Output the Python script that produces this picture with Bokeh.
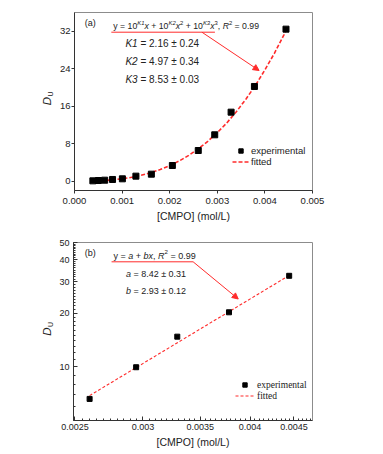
import math
from bokeh.plotting import figure
from bokeh.layouts import column, row
from bokeh.models import (FixedTicker, Label, Arrow, NormalHead, Legend, LegendItem,
                          PrintfTickFormatter, Range1d)
from bokeh.embed import file_html
from bokeh.resources import INLINE

# ---------------- data ----------------
cmpo = [0.000386, 0.000503, 0.000634, 0.000799, 0.001006, 0.00129, 0.001615,
        0.002056, 0.0026, 0.002946, 0.00329, 0.00378, 0.004443]
du = [0.14, 0.21, 0.28, 0.43, 0.57, 1.14, 1.56, 3.41, 6.61, 9.96, 14.79, 20.27, 32.5]

fit_x_a = [0.0004, 0.0006, 0.0008, 0.001, 0.0012, 0.0014, 0.0016, 0.0018, 0.002, 0.0022,
           0.0024, 0.0026, 0.0028, 0.003, 0.0032, 0.0034, 0.0036, 0.0038, 0.004, 0.0042,
           0.0044, 0.00445]
fit_y_a = [0.1, 0.19, 0.35, 0.58, 0.89, 1.32, 1.86, 2.54, 3.37, 4.38,
           5.57, 6.96, 8.58, 10.42, 12.5, 14.89, 17.55, 20.49, 23.8, 27.35,
           31.3, 32.4]

cmpo_b = cmpo[8:]
du_b = du[8:]
fit_x_b = [0.0026, 0.00445]
fit_y_b = [6.9, 32.8]

xticks_a = [0.0, 0.001, 0.002, 0.003, 0.004, 0.005]
yticks_a = [0, 8, 16, 24, 32]
xticks_b = [0.0025, 0.003, 0.0035, 0.004, 0.0045]
yticks_b = [10, 20, 30, 40, 50]

# ---------------- styling helpers ----------------
FONT = "Liberation Sans"
SERIF = "Liberation Serif"
TXT = "#222222"
RED = "#ff2b2b"
NB = "\u00a0"
EM = {' ': 0.278, NB: 0.278, '=': 0.584, '+': 0.584, '\u00b1': 0.549, '.': 0.278, ',': 0.278,
      'y': 0.5, 'x': 0.5, 'K': 0.667, 'R': 0.722, 'a': 0.556, 'b': 0.556,
      '(': 0.333, ')': 0.333}
LAB_W = 56


def tw(s, size):
    return sum(EM.get(c, 0.556) for c in s) * size


def rich(p, x, y, pieces, size):
    off = 0.0
    for txt, style, kind in pieces:
        txt = txt.replace(" ", NB)
        s = size * 0.68 if kind == 'sup' else size
        yo = size * 0.42 if kind == 'sup' else 0
        p.add_layout(Label(x=x, y=y, x_offset=off, y_offset=yo, text=txt,
                           text_font=FONT, text_font_size=f"{s:.1f}px",
                           text_font_style=style, text_color=TXT,
                           text_baseline="middle", text_align="left"))
        off += tw(txt, s)


def style_axes(p, inside):
    for ax in (p.xaxis[0], p.yaxis[0]):
        ax.axis_line_color = "#333333"
        ax.major_tick_line_color = "#333333"
        ax.minor_tick_line_color = "#333333"
        ax.major_label_text_font = FONT
        ax.major_label_text_color = TXT
        ax.axis_label_text_font = FONT
        ax.axis_label_text_color = TXT
        ax.axis_label_text_font_style = "normal"
        ax.axis_label_text_font_size = "10.5px"
        if inside:
            ax.major_tick_in = 4
            ax.major_tick_out = 0
            ax.minor_tick_in = 2
            ax.minor_tick_out = 0
        else:
            ax.major_tick_in = 0
            ax.major_tick_out = 3
            ax.minor_tick_line_color = None
    p.xgrid.visible = False
    p.ygrid.visible = False
    p.outline_line_color = "#8c8c8c"
    p.outline_line_width = 1


def label_panel(h, d_xy, u_xy):
    """narrow blank figure that carries the rotated y-axis title D_U"""
    f = figure(width=LAB_W, height=h, output_backend="svg", toolbar_location=None,
               x_range=Range1d(0, LAB_W), y_range=Range1d(0, h), min_border=0)
    f.axis.visible = False
    f.xgrid.visible = False
    f.ygrid.visible = False
    f.outline_line_color = None
    f.add_layout(Label(x=d_xy[0], y=d_xy[1], text="D", angle=math.pi / 2, text_font=FONT,
                       text_font_size="11.5px", text_font_style="italic", text_color=TXT,
                       text_align="center", text_baseline="middle"))
    f.add_layout(Label(x=u_xy[0], y=u_xy[1], text="U", angle=math.pi / 2, text_font=FONT,
                       text_font_size="7px", text_color=TXT,
                       text_align="center", text_baseline="middle"))
    return f


# ---------------- panel (a) ----------------
p1 = figure(width=277, height=227, output_backend="svg", toolbar_location=None,
            x_range=Range1d(0.0, 0.005), y_range=Range1d(-1.92, 36.05),
            min_border_left=71 - LAB_W, min_border_right=21, min_border_top=12, min_border_bottom=37)
style_axes(p1, inside=False)
p1.xaxis.ticker = FixedTicker(ticks=xticks_a)
p1.yaxis.ticker = FixedTicker(ticks=yticks_a)
p1.xaxis.formatter = PrintfTickFormatter(format="%.3f")
p1.xaxis.major_label_text_font_size = "9.5px"
p1.yaxis.major_label_text_font_size = "9.5px"
p1.xaxis.axis_label = "[CMPO] (mol/L)"
p1.xaxis.major_label_standoff = 4
p1.xaxis.axis_label_standoff = 3
p1.yaxis.major_label_standoff = 1

fit_a = p1.line(fit_x_a, fit_y_a, line_color=RED, line_width=1.6, line_dash="4 2")
exp_a = p1.scatter(cmpo, du, marker="square", size=6, fill_color="black", line_color="black")

leg_a = Legend(items=[LegendItem(label="experimental", renderers=[exp_a]),
                      LegendItem(label="fitted", renderers=[fit_a])],
               location=(158, 23), padding=0, margin=0, spacing=0,
               glyph_width=17, glyph_height=11, label_height=11, label_standoff=2,
               label_text_font=FONT, label_text_font_size="9.5px", label_text_color=TXT,
               border_line_color=None, background_fill_alpha=0)
p1.add_layout(leg_a)

p1.add_layout(Label(x=0.000213, y=33.77, text="(a)", text_font=FONT, text_font_size="9px",
                    text_color=TXT, text_baseline="middle"))
rich(p1, 0.000816, 33.13, [
    ("y = 10", "normal", "n"), ("K1", "italic", "sup"), ("x", "italic", "n"),
    (" + 10", "normal", "n"), ("K2", "italic", "sup"), ("x", "italic", "n"), ("2", "normal", "sup"),
    (" + 10", "normal", "n"), ("K3", "italic", "sup"), ("x", "italic", "n"), ("3", "normal", "sup"),
    (", ", "normal", "n"), ("R", "italic", "n"), ("2", "normal", "sup"), (" = 0.99", "normal", "n")], 8.7)
p1.add_layout(Arrow(x_start=0.000774, y_start=31.85, x_end=0.00295, y_end=31.85, end=None,
                    line_color=RED, line_width=1))
p1.add_layout(Arrow(x_start=0.002677, y_start=31.85, x_end=0.003878, y_end=23.68,
                    end=NormalHead(size=6, fill_color=RED, line_color=RED),
                    line_color=RED, line_width=1))
for yy, k, v in [(29.38, "K1", " = 2.16 \u00b1 0.24"), (25.6, "K2", " = 4.97 \u00b1 0.34"),
                 (21.76, "K3", " = 8.53 \u00b1 0.03")]:
    rich(p1, 0.00107, yy, [(k, "italic", "n"), (v, "normal", "n")], 10.0)

# ---------------- panel (b) ----------------
p2 = figure(width=277, height=226, output_backend="svg", toolbar_location=None,
            x_axis_type="log", y_axis_type="log",
            x_range=Range1d(0.00249, 0.00473), y_range=Range1d(5.0, 50.0),
            min_border_left=71 - LAB_W, min_border_right=21, min_border_top=15, min_border_bottom=33)
style_axes(p2, inside=True)
p2.xaxis.ticker = FixedTicker(ticks=xticks_b,
                              minor_ticks=[round(0.0025 + 0.00005 * i, 6) for i in range(45)])
p2.yaxis.ticker = FixedTicker(ticks=yticks_b, minor_ticks=list(range(5, 51)))
p2.xaxis.formatter = PrintfTickFormatter(format="%g")
p2.yaxis.formatter = PrintfTickFormatter(format="%d")
p2.xaxis.major_label_text_font_size = "9px"
p2.yaxis.major_label_text_font_size = "9px"
p2.xaxis.axis_label = "[CMPO] (mol/L)"
p2.xaxis.major_label_standoff = 3
p2.xaxis.axis_label_standoff = 3
p2.yaxis.major_label_standoff = 4

fit_b = p2.line(fit_x_b, fit_y_b, line_color=RED, line_width=1.1, line_dash="3 2")
exp_b = p2.scatter(cmpo_b, du_b, marker="square", size=5, fill_color="black", line_color="black")

leg_b = Legend(items=[LegendItem(label="experimental", renderers=[exp_b]),
                      LegendItem(label="fitted", renderers=[fit_b])],
               location=(162, 19), padding=0, margin=0, spacing=0,
               glyph_width=19, glyph_height=11, label_height=11, label_standoff=3,
               label_text_font=SERIF, label_text_font_size="9.5px", label_text_color=TXT,
               border_line_color=None, background_fill_alpha=0)
p2.add_layout(leg_b)

p2.add_layout(Label(x=0.002566, y=43.9, text="(b)", text_font=FONT, text_font_size="9px",
                    text_color=TXT, text_baseline="middle"))
rich(p2, 0.002772, 42.1, [
    ("y = ", "normal", "n"), ("a", "italic", "n"), (" + ", "normal", "n"), ("bx", "italic", "n"),
    (", ", "normal", "n"), ("R", "italic", "n"), ("2", "normal", "sup"), (" = 0.99", "normal", "n")], 9.0)
p2.add_layout(Arrow(x_start=0.002758, y_start=38.95, x_end=0.003433, y_end=38.95, end=None,
                    line_color=RED, line_width=1))
p2.add_layout(Arrow(x_start=0.003433, y_start=38.95, x_end=0.003875, y_end=24.07,
                    end=NormalHead(size=6, fill_color=RED, line_color=RED),
                    line_color=RED, line_width=1))
rich(p2, 0.002866, 33.4, [("a", "italic", "n"), (" = 8.42 \u00b1 0.31", "normal", "n")], 9.0)
rich(p2, 0.002866, 26.7, [("b", "italic", "n"), (" = 2.93 \u00b1 0.12", "normal", "n")], 9.0)

# ---------------- y-axis titles (D_U) ----------------
lab1 = label_panel(227, (46, 114), (50, 123))
lab2 = label_panel(226, (46, 113), (50, 122))

layout = column(row(lab1, p1, spacing=0), row(lab2, p2, spacing=0), spacing=0)
open("out.html", "w").write(file_html(layout, INLINE))
